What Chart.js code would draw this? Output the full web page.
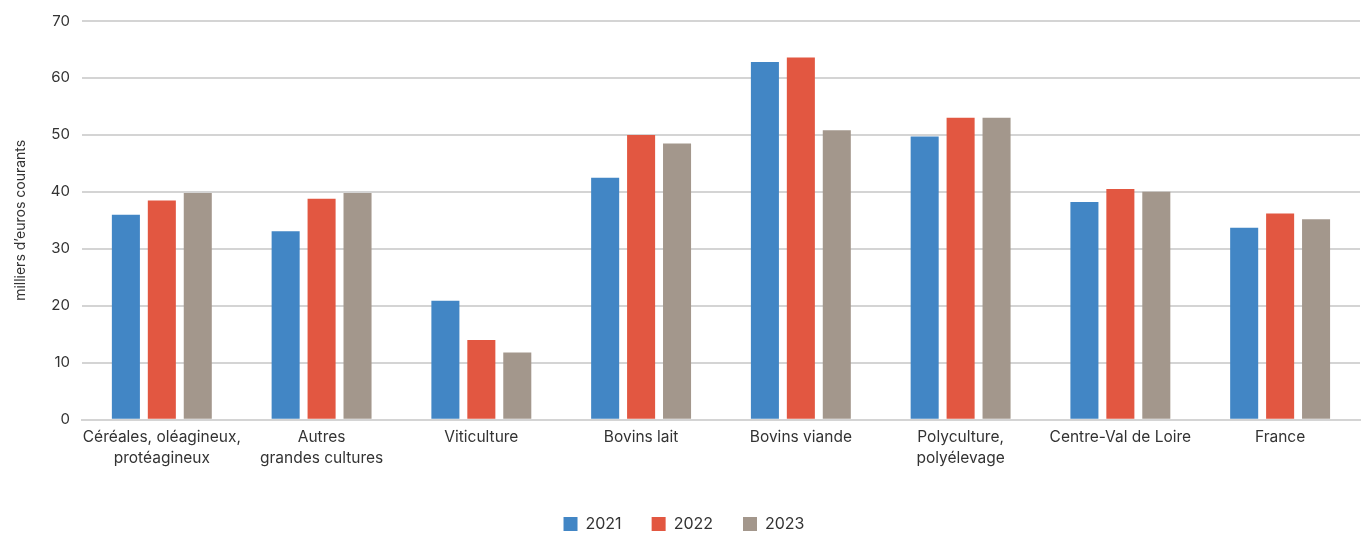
<!DOCTYPE html>
<html>
<head>
<meta charset="utf-8">
<script src="https://cdn.jsdelivr.net/npm/chart.js@4"></script>
<style>
    html, body { margin: 0; padding: 0; background: #fff; }
    #wrap { width: 1361px; height: 533px; }
</style>
</head>
<body>
<div id="wrap"><canvas id="grafico"></canvas></div>
<script>
const categorias = [
    ['Céréales, oléagineux,', 'protéagineux'],
    ['Autres', 'grandes cultures'],
    'Viticulture',
    'Bovins lait',
    'Bovins viande',
    ['Polyculture,', 'polyélevage'],
    'Centre-Val de Loire',
    'France'
];

const anos = ['2021', '2022', '2023'];

const valores2021 = [36.0, 33.1, 20.9, 42.5, 62.8, 49.7, 38.2, 33.7];
const valores2022 = [38.5, 38.8, 14.0, 50.0, 63.6, 53.0, 40.5, 36.2];
const valores2023 = [39.8, 39.8, 11.8, 48.5, 50.8, 53.0, 40.0, 35.2];

const CORES = ['#4286c5', '#e25741', '#a3978c'];
const FONTE = 'Inter, "Open Sans", sans-serif';

const series = [valores2021, valores2022, valores2023];
const datasets = [];
for (let i = 0; i < anos.length; i++) {
    datasets.push({
        label: anos[i],
        data: series[i],
        backgroundColor: CORES[i],
        borderWidth: 0,
        barPercentage: 0.78,
        categoryPercentage: 0.675
    });
}

// legenda um pouco mais baixa (o padding vertical do Chart.js empurra demais)
const ajusteLegenda = {
    id: 'ajusteLegenda',
    afterInit(chart) {
        const legenda = chart.legend;
        const fitOriginal = legenda.fit;
        legenda.fit = function() {
            fitOriginal.call(this);
            this.height -= 11;
        };
    }
};

new Chart(document.getElementById('grafico'), {
    type: 'bar',
    data: { labels: categorias, datasets: datasets },
    plugins: [ajusteLegenda],
    options: {
        responsive: true,
        maintainAspectRatio: false,
        animation: false,
        layout: { padding: { top: 6, right: 1, left: 8, bottom: 2 } },
        plugins: {
            legend: {
                position: 'bottom',
                labels: {
                    boxWidth: 14,
                    boxHeight: 14,
                    padding: 30,
                    color: '#333',
                    font: { family: FONTE, size: 16 }
                }
            },
            tooltip: { enabled: false }
        },
        scales: {
            x: {
                grid: { display: false },
                border: { color: '#d4d4d4', width: 2 },
                afterFit: function(escala) { escala.height += 18; },
                ticks: {
                    color: '#333',
                    font: { family: FONTE, size: 15.5, lineHeight: 1.3 },
                    padding: 0,
                    maxRotation: 0,
                    autoSkip: false
                }
            },
            y: {
                min: 0,
                max: 70,
                grid: { color: '#d4d4d4', lineWidth: 2, drawTicks: false },
                border: { display: false },
                ticks: {
                    stepSize: 10,
                    color: '#333',
                    font: { family: FONTE, size: 15 },
                    padding: 12
                },
                title: {
                    display: true,
                    text: 'milliers d\u2019euros courants',
                    color: '#333',
                    font: { family: FONTE, size: 14 },
                    padding: { bottom: 10 }
                }
            }
        }
    }
});
</script>
</body>
</html>
